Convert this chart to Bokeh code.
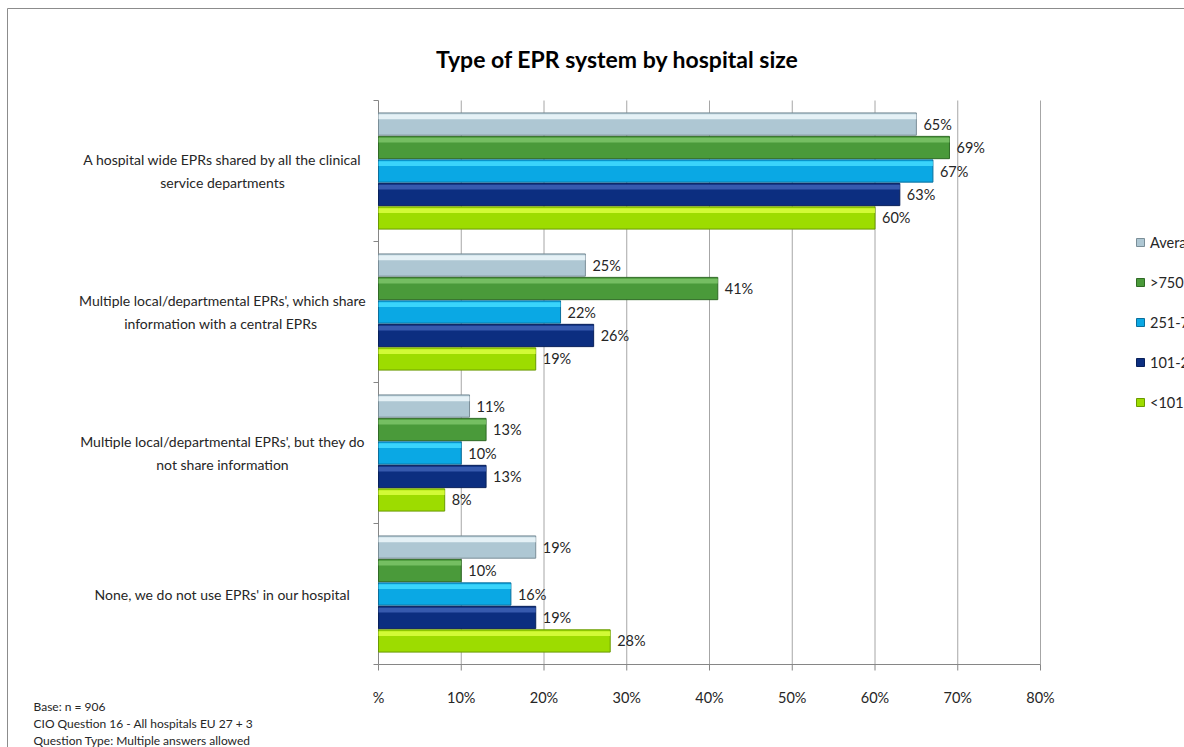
from bokeh.plotting import figure
from bokeh.models import Range1d, ColumnDataSource, Legend, LegendItem
from bokeh.core.properties import value
from bokeh.embed import file_html
from bokeh.resources import INLINE

# ---------------- data ----------------
categories = [
    "A hospital wide EPRs shared by all the clinical\nservice departments",
    "Multiple local/departmental EPRs', which share\ninformation with  a central EPRs",
    "Multiple local/departmental EPRs', but they do\nnot share information",
    "None, we do not use EPRs' in our hospital",
]
series_names = ["Average", ">750 beds", "251-750 beds", "101-250 beds", "<101 beds"]
average = [65, 25, 11, 19]
beds_over_750 = [69, 41, 13, 10]
beds_251_750 = [67, 22, 10, 16]
beds_101_250 = [63, 26, 13, 19]
beds_under_101 = [60, 19, 8, 28]
series_values = [average, beds_over_750, beds_251_750, beds_101_250, beds_under_101]
x_ticks = [0, 10, 20, 30, 40, 50, 60, 70, 80]
x_tick_labels = ["%", "10%", "20%", "30%", "40%", "50%", "60%", "70%", "80%"]
title_text = "Type of EPR system by hospital size"
footnotes = ["Base: n = 906", "CIO Question 16 - All hospitals EU 27 + 3",
             "Question Type: Multiple answers allowed"]

# ---------------- layout / style ----------------
FONT = "Lato"
fills = ["#aec7d3", "#4a9a3a", "#0aa8e4", "#0c2e80", "#9ddc00"]
highlights = ["#eef8fb", "#7cc46a", "#43dcff", "#3f62b6", "#dcff40"]
edges = ["#7a8e98", "#2f6a25", "#0a6f9c", "#08205a", "#6a9a00"]
TXT = "#262626"
GRID = "#a6a6a6"
AXIS = "#868686"

W, H = 1184, 747
PX0, PX80 = 378, 1040        # page x of 0% and 80%
PY_TOP, PY_BOT = 100, 664    # page y of plot-area top / bottom
N = len(categories)
XMAX = 80
ppx = (PX80 - PX0) / XMAX
ppy = (PY_BOT - PY_TOP) / N

def fx(px):
    return (px - PX0) / ppx

def fy(py):
    return (PY_BOT - py) / ppy

p = figure(width=W, height=H, output_backend="svg", toolbar_location=None,
           x_range=Range1d(fx(0), fx(W)), y_range=Range1d(fy(H), fy(0)),
           min_border=0, min_border_left=0, min_border_right=0,
           min_border_top=0, min_border_bottom=0)
p.axis.visible = False
p.grid.visible = False
p.outline_line_color = None
p.background_fill_color = "white"
p.border_fill_color = "white"

# chart border (left / top visible in the window)
p.segment(x0=[fx(7), fx(7)], y0=[fy(8), fy(8)], x1=[fx(7), fx(W)], y1=[fy(H), fy(8)],
          line_color="#8c8c8c", line_width=1)

# vertical gridlines
p.segment(x0=x_ticks[1:], y0=0, x1=x_ticks[1:], y1=N, line_color=GRID, line_width=1)

# axes
p.segment(x0=[0], y0=[0], x1=[XMAX], y1=[0], line_color=AXIS, line_width=1)
p.segment(x0=[0], y0=[0], x1=[0], y1=[N], line_color=AXIS, line_width=1)
p.segment(x0=x_ticks, y0=0, x1=x_ticks, y1=fy(PY_BOT + 6), line_color=AXIS, line_width=1)
bounds = list(range(N + 1))
p.segment(x0=0, y0=bounds, x1=fx(PX0 - 5), y1=bounds, line_color=AXIS, line_width=1)
p.text(x=x_ticks, y=fy(697), text=x_tick_labels, text_align="center",
       text_baseline="middle", text_font=value(FONT), text_font_size="14.5px",
       text_color=TXT)

# bars
group_centers = [N - i - 0.5 for i in range(N)]
slot = 0.1665
bar_h = 0.158
legend_items = []
for k, (name, vals) in enumerate(zip(series_names, series_values)):
    off = (2 - k) * slot
    ys = [c + off for c in group_centers]
    src = ColumnDataSource(dict(y=ys, v=vals, lab=[f"{v}%" for v in vals],
                                yt=[y + bar_h * 0.33 for y in ys]))
    r = p.hbar(y="y", right="v", left=0, height=bar_h, source=src,
               fill_color=fills[k], line_color=edges[k], line_width=1)
    p.hbar(y="yt", right="v", left=0, height=bar_h * 0.22, source=src,
           fill_color=highlights[k], line_color=None, fill_alpha=0.85)
    p.text(x="v", y="y", text="lab", source=src, x_offset=7,
           text_align="left", text_baseline="middle",
           text_font=value(FONT), text_font_size="14.5px", text_color=TXT)
    legend_items.append(LegendItem(label=name, renderers=[r]))

# category labels
p.text(x=fx(222), y=group_centers, text=categories, text_align="center",
       text_baseline="middle", text_font=value(FONT), text_font_size="14px",
       text_color=TXT, text_line_height=1.4)

# title
p.text(x=[fx(617)], y=[fy(58)], text=[title_text], text_align="center",
       text_baseline="middle", text_font=value(FONT), text_font_size="23px",
       text_font_style="bold", text_color="#000000")

# footnotes
p.text(x=fx(33), y=[fy(706 + 17 * i) for i in range(len(footnotes))], text=footnotes,
       text_align="left", text_baseline="middle", text_font=value(FONT),
       text_font_size="12px", text_color=TXT)

# legend
legend = Legend(items=legend_items, location=(1135, H - 234 - 178),
                orientation="vertical", glyph_width=10, glyph_height=10,
                label_standoff=5, spacing=20, label_height=20, padding=0, margin=0,
                border_line_color=None, background_fill_alpha=0,
                label_text_font=FONT, label_text_font_size="14.5px",
                label_text_color=TXT)
p.add_layout(legend)

open("out.html", "w").write(file_html(p, INLINE))
